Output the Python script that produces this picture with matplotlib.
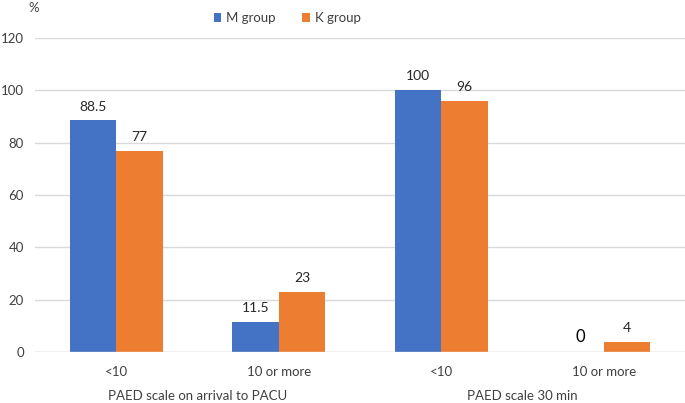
import matplotlib
matplotlib.use("Agg")
import matplotlib.pyplot as plt
import numpy as np

plt.rcParams["font.family"] = ["Lato", "DejaVu Sans"]

categories = ["<10", "10 or more", "<10", "10 or more"]
groups = ["PAED scale on arrival to PACU", "PAED scale 30 min"]
m_values = [88.5, 11.5, 100, 0]
k_values = [77, 23, 96, 4]
m_labels = ["88.5", "11.5", "100", "0"]
k_labels = ["77", "23", "96", "4"]
series_names = ["M group", "K group"]
yticks = [0, 20, 40, 60, 80, 100, 120]

blue = "#4472C4"
orange = "#ED7D31"
txt = "#404040"

fig = plt.figure(figsize=(6.85, 4.03), dpi=100)
ax = fig.add_axes([0.051, 0.1266, 0.949, 0.7791])

x = np.arange(len(categories))
w = 0.285
b1 = ax.bar(x - w/2, m_values, w, color=blue, label=series_names[0], zorder=3)
b2 = ax.bar(x + w/2, k_values, w, color=orange, label=series_names[1], zorder=3)

for xi, v, lab in zip(x, m_values, m_labels):
    if v == 0:
        ax.text(xi - w/2, v + 2.5, lab, ha="center", va="bottom", fontsize=12, color="black")
    else:
        ax.text(xi - w/2, v + 3, lab, ha="center", va="bottom", fontsize=10, color="#262626")
for xi, v, lab in zip(x, k_values, k_labels):
    ax.text(xi + w/2, v + 3, lab, ha="center", va="bottom", fontsize=10, color="#262626")

ax.set_xlim(-0.5, 3.5)
ax.set_ylim(0, 120)
ax.set_yticks(yticks)
ax.set_yticklabels([str(t) for t in yticks], fontsize=9.5, color=txt)
ax.set_xticks(x)
ax.set_xticklabels(categories, fontsize=9.5, color=txt)
ax.tick_params(axis="both", length=0)
ax.tick_params(axis="y", pad=8)
ax.tick_params(axis="x", pad=10)
ax.grid(axis="y", color="#d9d9d9", linewidth=1, zorder=0)
for s in ax.spines.values():
    s.set_visible(False)
ax.axhline(0, color="#d9d9d9", linewidth=1, zorder=4)

for i, g in enumerate(groups):
    ax.text(2*i + 0.5, -0.122, g, transform=ax.get_xaxis_transform(), ha="center", va="top", fontsize=9.5, color=txt)

fig.text(28/685, 1 - 8/403, "%", fontsize=9.5, color=txt, ha="left", va="center")
leg = fig.legend(handles=[b1, b2], labels=series_names, loc="center", bbox_to_anchor=(287/685, 1 - 18/403),
                 ncol=2, frameon=False, fontsize=9.5, handlelength=0.6, handleheight=0.6, columnspacing=2.0, handletextpad=0.35)
for t in leg.get_texts():
    t.set_color(txt)

fig.savefig("out.png", dpi=100)
